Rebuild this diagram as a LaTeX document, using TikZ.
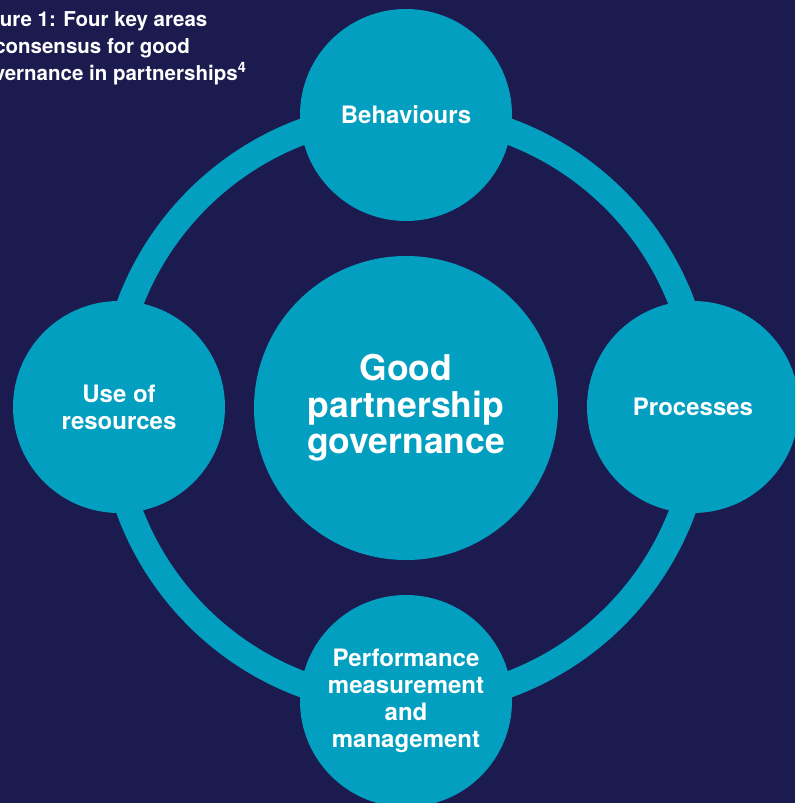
\documentclass[tikz,border=0pt]{standalone}
\usepackage{fontspec}
\setmainfont{TeX Gyre Heros}
\definecolor{bgnavy}{HTML}{1C1B50}
\definecolor{discblue}{HTML}{029FC0}
\begin{document}
\begin{tikzpicture}[x=1pt,y=-1pt,
  disc/.style={circle, fill=discblue, draw=none, inner sep=0pt, text=white,
    align=center, font=\bfseries\fontsize{24}{27}\selectfont, minimum size=212pt},
  hub/.style={disc, minimum size=304pt, font=\bfseries\fontsize{35.5}{36.5}\selectfont},
  ring/.style={draw=discblue, line width=26pt},
  caption/.style={anchor=base west, inner sep=0pt, text=white,
    font=\bfseries\fontsize{20.5}{27}\selectfont}]
  % background and page frame
  \fill[bgnavy] (0,0) rectangle (795,803);
  \useasboundingbox (0,0) rectangle (795,803);
  \clip (0,0) rectangle (795,803);

  % figure caption
  \node[caption] (cap1) at (-31,26) {Figure 1: Four key areas};
  \node[caption] (cap2) at (-31,53) {of consensus for good};
  \node[caption] (cap3) at (-31,80) {governance in partnerships\textsuperscript{4}};

  % ring linking the four areas
  \coordinate (mid) at (406,408);
  \draw[ring] (mid) circle[radius=295pt];

  % central circle and the four areas
  \node[hub] (core) at (mid) {Good\\partnership\\governance};
  \node[disc] (behav) at (406,115) {Behaviours};
  \node[disc] (res) at (119,407) {Use of\\resources};
  \node[disc] (proc) at (693,407) {Processes};
  \node[disc] (perf) at (406,701) {Performance\\measurement\\and\\management};
\end{tikzpicture}
\end{document}
